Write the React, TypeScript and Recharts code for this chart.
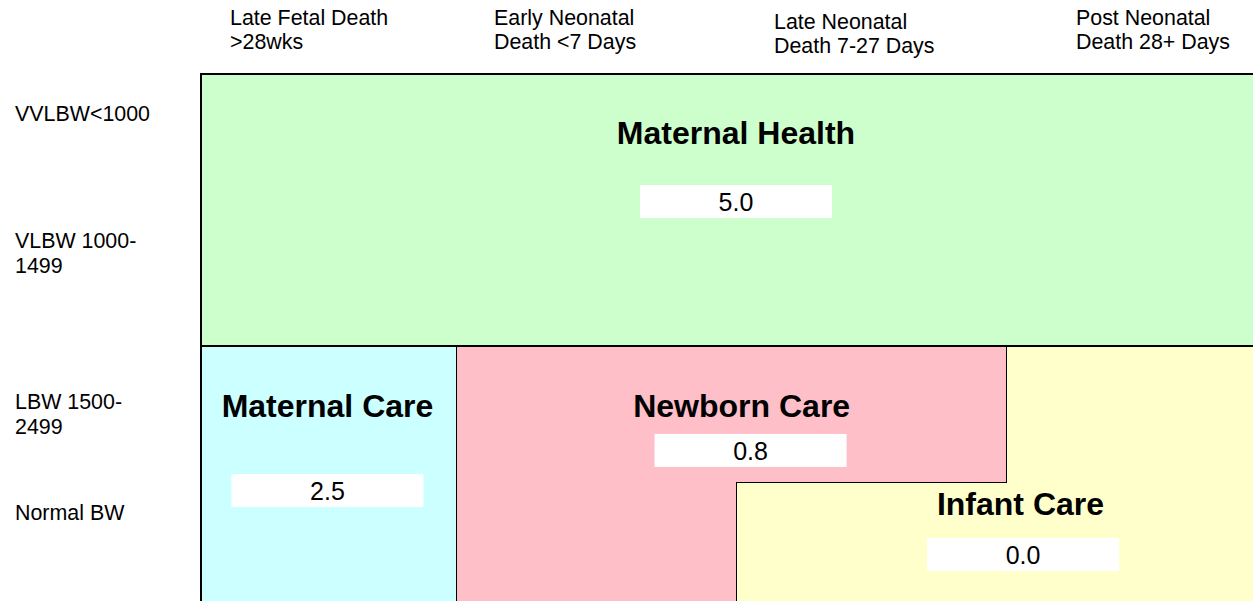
import React from 'react';
import { ComposedChart, XAxis, YAxis, ReferenceArea, ReferenceLine, ReferenceDot } from 'recharts';

// ---------------- data ----------------
const columnLabels: string[][] = [
  ['Late Fetal Death', '>28wks'],
  ['Early Neonatal', 'Death <7 Days'],
  ['Late Neonatal', 'Death 7-27 Days'],
  ['Post Neonatal', 'Death 28+ Days'],
];
const rowLabels: string[][] = [
  ['VVLBW<1000'],
  ['VLBW 1000-', '1499'],
  ['LBW 1500-', '2499'],
  ['Normal BW'],
];
const regionNames = ['Maternal Health', 'Maternal Care', 'Newborn Care', 'Infant Care'];
const regionRates = [5.0, 2.5, 0.8, 0.0];
// region index of every cell: rows = birth weight, columns = age at death
const cellRegions: number[][] = [
  [0, 0, 0, 0],
  [0, 0, 0, 0],
  [1, 2, 2, 3],
  [1, 2, 3, 3],
];

// ---------------- layout / style ----------------
const FONT = "'Liberation Sans', Arial, Helvetica, sans-serif";
const REGION_COLORS = ['#CCFFCC', '#CCFFFF', '#FFBFC9', '#FFFFCC'];
// relative widths of the four columns (layout only)
const COLUMN_WEIGHTS = [255, 280, 270, 263];
// label anchors in grid units (column, row)
const TITLE_ANCHORS: [number, number][] = [
  [2.0, 0.515],
  [0.496, 2.52],
  [2.021, 2.52],
  [3.055, 3.243],
];
const BOX_ANCHORS: [number, number][] = [
  [2.0, 0.9375],
  [0.496, 3.0625],
  [2.054, 2.768],
  [3.065, 3.533],
];
const BOX_W = 192;
const BOX_H = 33;
const LABEL_SIZE = 21.4;
const HEADER_DX = [29, 38, 38, 70]; // from column's left edge
const HEADER_BASE = [25, 25, 29, 25];
const ROW_DY = [-21, -30, -5, -30];

const nRows = cellRegions.length;
const nCols = cellRegions[0].length;

// piecewise-linear column scale (d3-like interface)
function makeColumnScale(weights: number[]): any {
  let dom: number[] = [0, weights.length];
  let rng: number[] = [0, 1];
  const total = weights.reduce((a, b) => a + b, 0);
  const cum: number[] = [0];
  weights.forEach((w) => cum.push(cum[cum.length - 1] + w));
  const n = weights.length;
  const s: any = (v: any) => {
    const t = ((Number(v) - dom[0]) / (dom[1] - dom[0])) * n;
    const i = Math.max(0, Math.min(n - 1, Math.floor(t)));
    const acc = cum[i] + (t - i) * weights[i];
    return rng[0] + ((rng[1] - rng[0]) * acc) / total;
  };
  s.domain = (d?: any[]) => {
    if (d === undefined) return dom.slice();
    dom = [Number(d[0]), Number(d[d.length - 1])];
    return s;
  };
  s.range = (r?: any[]) => {
    if (r === undefined) return rng.slice();
    rng = [Number(r[0]), Number(r[r.length - 1])];
    return s;
  };
  s.copy = () => makeColumnScale(weights).domain(dom).range(rng);
  s.ticks = (count = 4) => {
    const out: number[] = [];
    const step = (dom[1] - dom[0]) / Math.max(1, count);
    for (let i = 0; i <= count; i++) out.push(dom[0] + i * step);
    return out;
  };
  s.tickFormat = () => (v: any) => String(v);
  s.nice = () => s;
  s.clamp = () => s;
  s.invert = (px: number) => {
    const a = ((px - rng[0]) / (rng[1] - rng[0])) * total;
    let i = 0;
    while (i < n - 1 && cum[i + 1] < a) i++;
    return dom[0] + ((i + (a - cum[i]) / weights[i]) / n) * (dom[1] - dom[0]);
  };
  return s;
}
const columnScale = makeColumnScale(COLUMN_WEIGHTS);

type Rect = { region: number; x1: number; x2: number; y1: number; y2: number };
function buildRects(): Rect[] {
  const runs: Rect[] = [];
  cellRegions.forEach((row, r) => {
    let c = 0;
    while (c < row.length) {
      let e = c;
      while (e + 1 < row.length && row[e + 1] === row[c]) e++;
      runs.push({ region: row[c], x1: c, x2: e + 1, y1: r, y2: r + 1 });
      c = e + 1;
    }
  });
  const merged: Rect[] = [];
  for (const run of runs) {
    const m = merged.find(
      (q) => q.region === run.region && q.x1 === run.x1 && q.x2 === run.x2 && q.y2 === run.y1
    );
    if (m) m.y2 = run.y2;
    else merged.push({ ...run });
  }
  return merged;
}

type Edge = { x1: number; x2: number; y1: number; y2: number; w: number };
function edgeWidth(a: number, b: number) {
  if (a === 0 || b === 0) return 2;
  if (a === -1 || b === -1) return 1.5;
  return 1;
}
function buildEdges(): Edge[] {
  const at = (r: number, c: number) =>
    r < 0 || c < 0 || r >= nRows || c >= nCols ? -1 : cellRegions[r][c];
  const edges: Edge[] = [];
  for (let r = 0; r <= nRows; r++)
    for (let c = 0; c < nCols; c++) {
      const a = at(r - 1, c);
      const b = at(r, c);
      if (a !== b) edges.push({ x1: c, x2: c + 1, y1: r, y2: r, w: edgeWidth(a, b) });
    }
  for (let c = 0; c <= nCols; c++)
    for (let r = 0; r < nRows; r++) {
      const a = at(r, c - 1);
      const b = at(r, c);
      if (a !== b) edges.push({ x1: c, x2: c, y1: r, y2: r + 1, w: edgeWidth(a, b) });
    }
  return edges;
}

const rects = buildRects();
const edges = buildEdges();
const cellData = cellRegions.flatMap((row, r) => row.map((reg, c) => ({ x: c + 0.5, y: r + 0.5, reg })));
const colTicks = columnLabels.map((_, i) => i);
const rowTicks = rowLabels.map((_, i) => i + 0.5);

function ColTick(props: any) {
  const { x, payload } = props;
  const idx = Math.round(payload.value);
  const lines = columnLabels[idx] || [];
  const tx = x + HEADER_DX[idx];
  return (
    <text x={tx} y={HEADER_BASE[idx]} fontSize={LABEL_SIZE} fontFamily={FONT} fill="#000">
      {lines.map((l, i) => (
        <tspan key={i} x={tx} dy={i === 0 ? 0 : 24}>
          {l}
        </tspan>
      ))}
    </text>
  );
}

function RowTick(props: any) {
  const { y, payload } = props;
  const idx = Math.floor(payload.value);
  const lines = rowLabels[idx] || [];
  return (
    <text x={15} y={y + ROW_DY[idx]} fontSize={LABEL_SIZE} fontFamily={FONT} fill="#000">
      {lines.map((l, i) => (
        <tspan key={i} x={15} dy={i === 0 ? 0 : 24.5}>
          {l}
        </tspan>
      ))}
    </text>
  );
}

export default function App() {
  return (
    <div
      style={{
        position: 'absolute',
        left: 0,
        top: 0,
        width: 1253,
        height: 601,
        overflow: 'hidden',
        background: '#fff',
      }}
    >
      <style>{`.recharts-reference-line-line, .recharts-reference-area-rect { shape-rendering: crispEdges; }`}</style>
      <ComposedChart
        width={1290}
        height={640}
        data={cellData}
        margin={{ top: 0, left: 0, right: 21, bottom: 22 }}
      >
        <XAxis
          type="number"
          dataKey="x"
          domain={[0, nCols]}
          allowDataOverflow
          scale={columnScale}
          orientation="top"
          height={74}
          ticks={colTicks}
          interval={0}
          tick={ColTick}
          axisLine={false}
          tickLine={false}
        />
        <YAxis
          type="number"
          dataKey="y"
          domain={[0, nRows]}
          allowDataOverflow
          reversed
          width={201}
          ticks={rowTicks}
          interval={0}
          tick={RowTick}
          axisLine={false}
          tickLine={false}
        />
        {rects.map((r, i) => (
          <ReferenceArea
            key={`a${i}`}
            x1={r.x1}
            x2={r.x2}
            y1={r.y1}
            y2={r.y2}
            fill={REGION_COLORS[r.region]}
            fillOpacity={1}
            stroke="none"
            ifOverflow="visible"
          />
        ))}
        {edges.map((e, i) => (
          <ReferenceLine
            key={`e${i}`}
            segment={[
              { x: e.x1, y: e.y1 },
              { x: e.x2, y: e.y2 },
            ]}
            stroke="#000"
            strokeWidth={e.w}
            strokeLinecap="square"
            ifOverflow="visible"
          />
        ))}
        {regionNames.map((name, i) => (
          <ReferenceDot
            key={`t${i}`}
            x={TITLE_ANCHORS[i][0]}
            y={TITLE_ANCHORS[i][1]}
            ifOverflow="visible"
            shape={(p: any) => (
              <text
                x={p.cx}
                y={p.cy}
                textAnchor="middle"
                fontSize={32}
                fontWeight="bold"
                fontFamily={FONT}
                fill="#000"
              >
                {name}
              </text>
            )}
          />
        ))}
        {regionRates.map((v, i) => (
          <ReferenceDot
            key={`v${i}`}
            x={BOX_ANCHORS[i][0]}
            y={BOX_ANCHORS[i][1]}
            ifOverflow="visible"
            shape={(p: any) => (
              <g>
                <rect x={p.cx - BOX_W / 2} y={p.cy - BOX_H / 2} width={BOX_W} height={BOX_H} fill="#fff" />
                <text
                  x={p.cx}
                  y={p.cy + 9.5}
                  textAnchor="middle"
                  fontSize={25}
                  fontFamily={FONT}
                  fill="#000"
                >
                  {v.toFixed(1)}
                </text>
              </g>
            )}
          />
        ))}
      </ComposedChart>
    </div>
  );
}
